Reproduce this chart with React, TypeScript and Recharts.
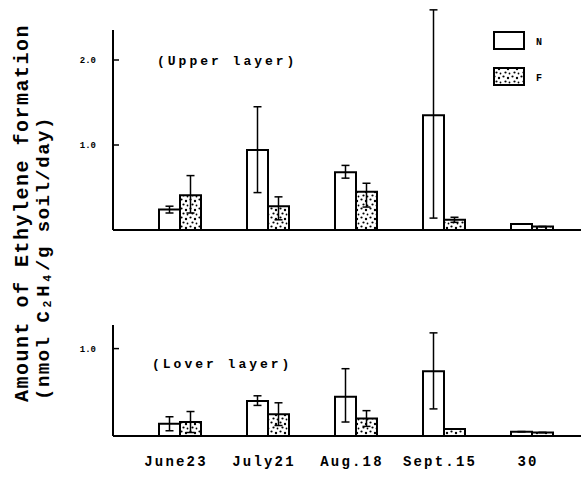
import { BarChart, Bar, XAxis, YAxis, ErrorBar } from "recharts";

const categories = ["June23", "July21", "Aug.18", "Sept.15", "30"];

// upper layer: bar value, error bar low end, error bar high end
const upperN = [0.24, 0.94, 0.68, 1.35, 0.07];
const upperNLow = [0.2, 0.44, 0.61, 0.14, 0.07];
const upperNHigh = [0.28, 1.45, 0.76, 2.59, 0.07];
const upperF = [0.41, 0.28, 0.45, 0.12, 0.04];
const upperFLow = [0.2, 0.12, 0.27, 0.09, 0.04];
const upperFHigh = [0.64, 0.39, 0.55, 0.15, 0.04];

// lower layer
const lowerN = [0.14, 0.4, 0.45, 0.74, 0.05];
const lowerNLow = [0.06, 0.35, 0.16, 0.31, 0.05];
const lowerNHigh = [0.22, 0.46, 0.77, 1.18, 0.05];
const lowerF = [0.16, 0.25, 0.2, 0.08, 0.04];
const lowerFLow = [0.04, 0.12, 0.11, 0.08, 0.04];
const lowerFHigh = [0.28, 0.38, 0.29, 0.08, 0.04];

const upperTicks = [1.0, 2.0];
const lowerTicks = [1.0];

const FONT = "'Liberation Mono', 'DejaVu Sans Mono', monospace";

function buildRows(n: number[], nLo: number[], nHi: number[], f: number[], fLo: number[], fHi: number[]) {
    return categories.map((name, i) => ({
        name,
        N: n[i],
        nErr: [n[i] - nLo[i], nHi[i] - n[i]],
        F: f[i],
        fErr: [f[i] - fLo[i], fHi[i] - f[i]],
    }));
}

const upperRows = buildRows(upperN, upperNLow, upperNHigh, upperF, upperFLow, upperFHigh);
const lowerRows = buildRows(lowerN, lowerNLow, lowerNHigh, lowerF, lowerFLow, lowerFHigh);

function YTick(props: any) {
    const { x, y, payload } = props;
    return (
        <g>
            <text x={x} y={y} dy={3} textAnchor="end" fontFamily={FONT} fontWeight="bold" fontSize={9} fill="#000">
                {payload.value.toFixed(1)}
            </text>
            <line x1={x + 17} x2={x + 23} y1={y} y2={y} stroke="#000" strokeWidth={1.5} />
        </g>
    );
}

function XTick(props: any) {
    const { x, y, payload } = props;
    return (
        <text x={x - 4} y={y} dy={10} textAnchor="middle" fontFamily={FONT} fontWeight="bold" fontSize={14} letterSpacing={2.2} fill="#000">
            {payload.value}
        </text>
    );
}

function LegendBox() {
    return (
        <svg width={60} height={60}>
            <rect x={1} y={2} width={30} height={17} fill="#fff" stroke="#000" strokeWidth={2} />
            <text x={43} y={15} fontFamily={FONT} fontWeight="bold" fontSize={10}>N</text>
            <rect x={1} y={38} width={30} height={17} fill="url(#stipple)" stroke="#000" strokeWidth={2} />
            <text x={43} y={51} fontFamily={FONT} fontWeight="bold" fontSize={10}>F</text>
        </svg>
    );
}

export default function App() {
    return (
        <div style={{ position: "absolute", left: 0, top: 0, width: 581, height: 477, background: "#fff", overflow: "hidden" }}>
            <svg width={0} height={0} style={{ position: "absolute" }}>
                <defs>
                    <pattern id="stipple" width={9} height={9} patternUnits="userSpaceOnUse">
                        <rect width={9} height={9} fill="#fff" />
                        <circle cx={1.5} cy={1.5} r={1.1} fill="#000" />
                        <circle cx={6} cy={3} r={1.2} fill="#000" />
                        <circle cx={3.5} cy={6.5} r={1.1} fill="#000" />
                        <circle cx={7.5} cy={7.5} r={0.9} fill="#000" />
                    </pattern>
                </defs>
            </svg>

            {/* axis title */}
            <svg width={60} height={477} style={{ position: "absolute", left: 0, top: 0 }}>
                <text transform="translate(28,402) rotate(-90)" fontFamily={FONT} fontWeight="bold" fontSize={20} letterSpacing={1.5} fill="#000">
                    Amount of Ethylene formation
                </text>
                <text transform="translate(49,400) rotate(-90)" fontFamily={FONT} fontWeight="bold" fontSize={19} letterSpacing={1.5} fill="#000">
                    (nmol C₂H₄/g soil/day)
                </text>
            </svg>

            <div style={{ position: "absolute", left: 0, top: 0 }}>
                <BarChart width={581} height={250} data={upperRows} margin={{ top: 9, right: 0, bottom: 19, left: 73 }} barGap={0} barSize={21}>
                    <XAxis dataKey="name" height={1} tick={false} tickLine={false} axisLine={{ stroke: "#000", strokeWidth: 2 }} padding={{ left: 23, right: 5 }} />
                    <YAxis
                        width={40}
                        domain={[0, 2.6]}
                        ticks={upperTicks}
                        allowDataOverflow
                        tickSize={0}
                        tickMargin={17}
                        tickLine={false}
                        tick={<YTick />}
                        axisLine={{ stroke: "#000", strokeWidth: 2, strokeDasharray: "0 21 1000" }}
                    />
                    <Bar dataKey="N" fill="#fff" stroke="#000" strokeWidth={2} isAnimationActive={false}>
                        <ErrorBar dataKey="nErr" width={4} stroke="#000" strokeWidth={1.5} />
                    </Bar>
                    <Bar dataKey="F" fill="url(#stipple)" stroke="#000" strokeWidth={2} isAnimationActive={false}>
                        <ErrorBar dataKey="fErr" width={4} stroke="#000" strokeWidth={1.5} />
                    </Bar>
                </BarChart>
            </div>
            <div style={{ position: "absolute", left: 493, top: 30 }}>
                <LegendBox />
            </div>
            <div style={{ position: "absolute", left: 157, top: 54, fontFamily: FONT, fontWeight: "bold", fontSize: 13, letterSpacing: 3 }}>
                (Upper layer)
            </div>

            <div style={{ position: "absolute", left: 0, top: 250 }}>
                <BarChart width={581} height={227} data={lowerRows} margin={{ top: 75, right: 0, bottom: 11, left: 73 }} barGap={0} barSize={21}>
                    <XAxis
                        dataKey="name"
                        height={30}
                        tickSize={0}
                        tickMargin={20}
                        tickLine={false}
                        tick={<XTick />}
                        interval={0}
                        axisLine={{ stroke: "#000", strokeWidth: 2 }}
                        padding={{ left: 23, right: 5 }}
                    />
                    <YAxis
                        width={40}
                        domain={[0, 1.27]}
                        ticks={lowerTicks}
                        tickSize={0}
                        tickMargin={17}
                        tickLine={false}
                        tick={<YTick />}
                        axisLine={{ stroke: "#000", strokeWidth: 2 }}
                    />
                    <Bar dataKey="N" fill="#fff" stroke="#000" strokeWidth={2} isAnimationActive={false}>
                        <ErrorBar dataKey="nErr" width={4} stroke="#000" strokeWidth={1.5} />
                    </Bar>
                    <Bar dataKey="F" fill="url(#stipple)" stroke="#000" strokeWidth={2} isAnimationActive={false}>
                        <ErrorBar dataKey="fErr" width={4} stroke="#000" strokeWidth={1.5} />
                    </Bar>
                </BarChart>
            </div>
            <div style={{ position: "absolute", left: 152, top: 357, fontFamily: FONT, fontWeight: "bold", fontSize: 13, letterSpacing: 3 }}>
                (Lover layer)
            </div>
        </div>
    );
}
